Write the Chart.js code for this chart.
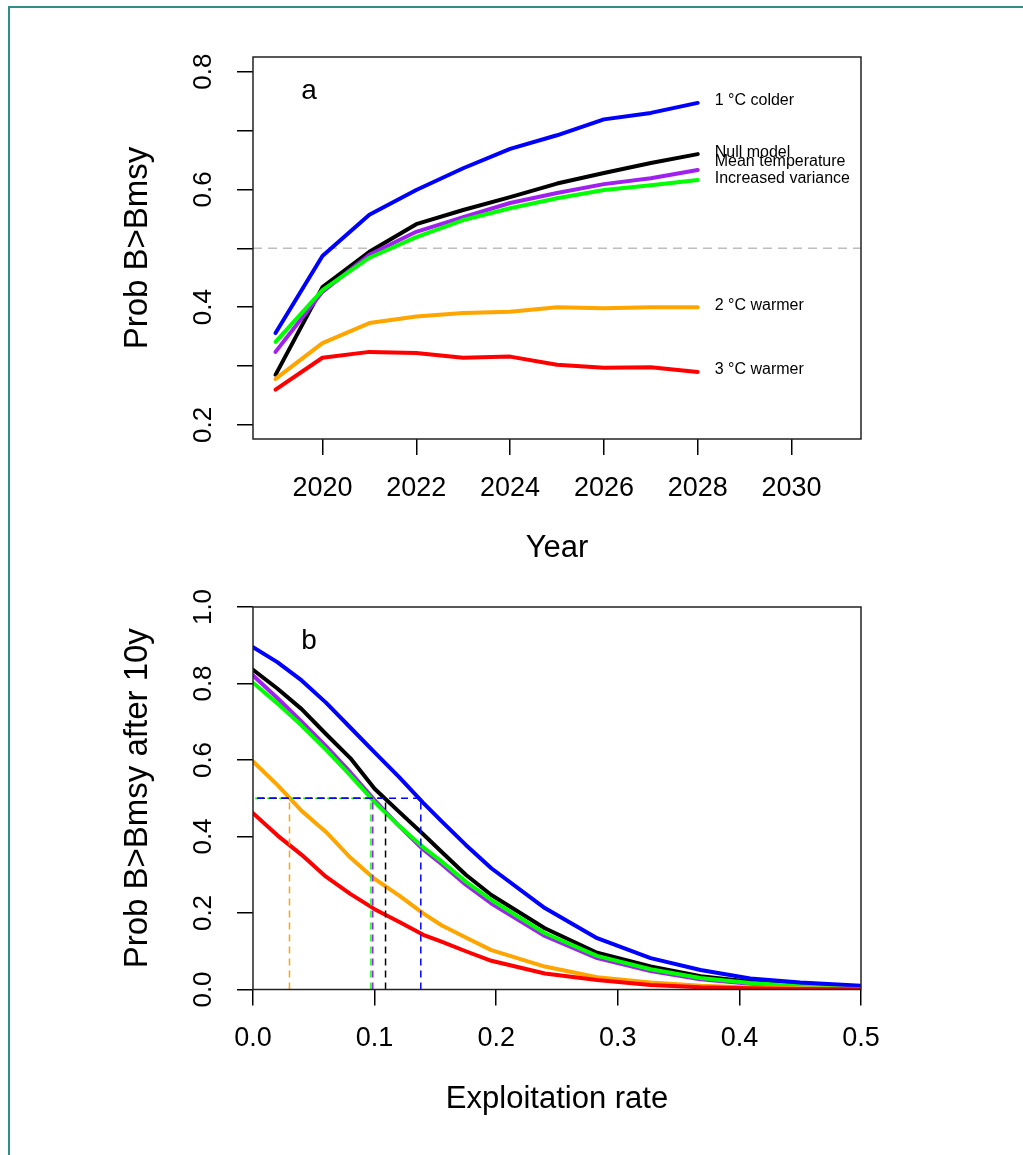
<!DOCTYPE html>
<html>
<head>
<meta charset="utf-8">
<title>Prob B&gt;Bmsy</title>
<script src="https://cdn.jsdelivr.net/npm/chart.js@4.4.1/dist/chart.umd.min.js"></script>
<style>
  html, body { margin: 0; padding: 0; background: #fff; }
  #page { position: relative; width: 1023px; height: 1155px; overflow: hidden; }
  #frame-top { position: absolute; left: 8px; top: 6px; right: 0; border-top: 2px solid #2e9085; }
  #frame-left { position: absolute; left: 8px; top: 6px; bottom: 0; border-left: 2px solid #2e9085; }
  canvas { position: absolute; left: 0; }
  #chart-a { top: 0; }
  #chart-b { top: 575px; }
</style>
</head>
<body>
<div id="page">
  <div id="frame-top"></div>
  <div id="frame-left"></div>
  <canvas id="chart-a" width="1023" height="575"></canvas>
  <canvas id="chart-b" width="1023" height="580"></canvas>
</div>
<script>
// ---- panel a: probability over time ----
var years = [2019, 2020, 2021, 2022, 2023, 2024, 2025, 2026, 2027, 2028];
var nullModel = [0.285, 0.434, 0.494, 0.541, 0.565, 0.587, 0.610, 0.628, 0.645, 0.660];
var meanTemp = [0.324, 0.426, 0.489, 0.528, 0.553, 0.577, 0.594, 0.609, 0.619, 0.633];
var incVariance = [0.341, 0.429, 0.484, 0.519, 0.548, 0.568, 0.585, 0.599, 0.607, 0.616];
var colder1 = [0.356, 0.487, 0.557, 0.599, 0.636, 0.669, 0.692, 0.719, 0.730, 0.747];
var warmer2 = [0.278, 0.339, 0.373, 0.384, 0.390, 0.392, 0.400, 0.398, 0.400, 0.400];
var warmer3 = [0.260, 0.314, 0.324, 0.322, 0.314, 0.316, 0.302, 0.297, 0.298, 0.290];
var yearTicks = [2020, 2022, 2024, 2026, 2028, 2030];
var probTicksA = [0.2, 0.3, 0.4, 0.5, 0.6, 0.7, 0.8];
var probLabelsA = [0.2, 0.4, 0.6, 0.8];
var refProb = 0.5;

// ---- panel b: probability after 10y vs exploitation rate ----
var expRate = [0, 0.02, 0.04, 0.06, 0.08, 0.10, 0.12, 0.14, 0.155, 0.175, 0.196, 0.24, 0.283, 0.327, 0.368, 0.409, 0.45, 0.5];
var nullModelB = [0.836, 0.787, 0.733, 0.668, 0.605, 0.525, 0.465, 0.406, 0.360, 0.300, 0.247, 0.160, 0.096, 0.060, 0.035, 0.020, 0.011, 0.006];
var meanTempB = [0.821, 0.762, 0.700, 0.636, 0.568, 0.495, 0.428, 0.366, 0.328, 0.274, 0.225, 0.140, 0.082, 0.048, 0.027, 0.015, 0.008, 0.004];
var incVarianceB = [0.802, 0.748, 0.690, 0.627, 0.560, 0.490, 0.428, 0.372, 0.335, 0.282, 0.234, 0.147, 0.088, 0.053, 0.030, 0.017, 0.009, 0.005];
var colder1B = [0.895, 0.856, 0.808, 0.750, 0.685, 0.620, 0.556, 0.488, 0.440, 0.378, 0.317, 0.213, 0.134, 0.082, 0.051, 0.029, 0.018, 0.010];
var warmer2B = [0.596, 0.535, 0.467, 0.412, 0.345, 0.289, 0.246, 0.199, 0.168, 0.136, 0.103, 0.060, 0.032, 0.018, 0.010, 0.005, 0.003, 0.001];
var warmer3B = [0.461, 0.403, 0.352, 0.295, 0.250, 0.210, 0.177, 0.143, 0.125, 0.100, 0.075, 0.042, 0.025, 0.012, 0.006, 0.003, 0.001, 0.0005];
// exploitation rate where each curve drops below 0.5 (dashed guides)
var crossNames = ['2 °C warmer', 'Null model', 'Mean temperature', 'Increased variance', '1 °C colder'];
var crossRate = [0.030, 0.109, 0.0985, 0.097, 0.138];
var rateTicks = [0, 0.1, 0.2, 0.3, 0.4, 0.5];
var probTicksB = [0, 0.2, 0.4, 0.6, 0.8, 1.0];

(function () {
  'use strict';

  var FONT = '"Liberation Sans", Arial, Helvetica, sans-serif';
  var colors = {
    'Null model': '#000000',
    'Mean temperature': '#a020f0',
    'Increased variance': '#00ff00',
    '1 °C colder': '#0000ff',
    '2 °C warmer': '#ffa500',
    '3 °C warmer': '#ff0000'
  };

  function toPoints(xs, ys) {
    return xs.map(function (x, i) { return { x: x, y: ys[i] }; });
  }

  function curve(label, xs, ys, order) {
    return {
      label: label,
      data: toPoints(xs, ys),
      borderColor: colors[label],
      borderWidth: 4,
      pointRadius: 0,
      tension: 0,
      borderCapStyle: 'round',
      borderJoinStyle: 'round',
      order: order
    };
  }

  function fixedTicks(values) {
    return function (scale) {
      scale.ticks = values.map(function (v) { return { value: v }; });
    };
  }

  function axisX(min, max, ticks, title, tickPad, titlePad, height, digits) {
    return {
      type: 'linear',
      min: min,
      max: max,
      afterBuildTicks: fixedTicks(ticks),
      afterFit: function (s) { s.height = height; },
      ticks: {
        autoSkip: false,
        maxRotation: 0,
        padding: tickPad,
        color: '#000',
        font: { family: FONT, size: 27 },
        callback: function (v) { return digits ? v.toFixed(digits) : String(v); }
      },
      grid: { drawOnChartArea: false, drawTicks: true, tickLength: 16, color: '#000', lineWidth: 1.5 },
      border: { display: false },
      title: { display: true, text: title, color: '#000', font: { family: FONT, size: 31 }, padding: { top: 0, bottom: titlePad } }
    };
  }

  function axisY(min, max, ticks, title) {
    return {
      type: 'linear',
      min: min,
      max: max,
      afterBuildTicks: fixedTicks(ticks),
      afterFit: function (s) { s.width = 135; },
      ticks: { display: false },
      grid: { drawOnChartArea: false, drawTicks: true, tickLength: 16, color: '#000', lineWidth: 1.5 },
      border: { display: false },
      title: { display: true, text: title, color: '#000', font: { family: FONT, size: 33 }, padding: { top: 0, bottom: 0 } }
    };
  }

  // R style frame, rotated y labels, panel letter, end labels
  var rFrame = {
    id: 'rFrame',
    afterDraw: function (chart, args, opts) {
      var ctx = chart.ctx;
      var a = chart.chartArea;
      var ys = chart.scales.y;
      ctx.save();
      ctx.strokeStyle = '#222';
      ctx.lineWidth = 1.5;
      ctx.strokeRect(a.left, a.top, a.right - a.left, a.bottom - a.top);

      ctx.fillStyle = '#000';
      ctx.textAlign = 'center';
      ctx.textBaseline = 'middle';
      ctx.font = '26px ' + FONT;
      opts.yLabels.forEach(function (v) {
        ctx.save();
        ctx.translate(a.left - 49, ys.getPixelForValue(v));
        ctx.rotate(-Math.PI / 2);
        ctx.fillText(v.toFixed(1), 0, 0);
        ctx.restore();
      });

      ctx.font = '28px ' + FONT;
      ctx.fillText(opts.letter, a.left + 56, a.top + 34);

      if (opts.endLabels) {
        var shift = { 'Mean temperature': -6, 'Increased variance': 1 };
        ctx.font = '16px ' + FONT;
        ctx.textAlign = 'left';
        chart.data.datasets.forEach(function (ds) {
          if (!colors[ds.label]) return;
          var last = ds.data[ds.data.length - 1];
          var px = chart.scales.x.getPixelForValue(last.x) + 17;
          var py = ys.getPixelForValue(last.y) - 2 + (shift[ds.label] || 0);
          ctx.fillText(ds.label, px, py);
        });
      }
      ctx.restore();
    }
  };

  function drawPanelA() {
    var xMin = 2018.52, xMax = 2031.48;
    var datasets = [
      {
        label: 'ref',
        data: [{ x: xMin, y: refProb }, { x: xMax, y: refProb }],
        borderColor: '#bebebe',
        borderWidth: 1.5,
        borderDash: [9, 6],
        pointRadius: 0,
        order: 10
      },
      curve('Null model', years, nullModel, 6),
      curve('Mean temperature', years, meanTemp, 5),
      curve('Increased variance', years, incVariance, 4),
      curve('1 °C colder', years, colder1, 3),
      curve('2 °C warmer', years, warmer2, 2),
      curve('3 °C warmer', years, warmer3, 1)
    ];
    new Chart(document.getElementById('chart-a'), {
      type: 'line',
      data: { datasets: datasets },
      options: {
        responsive: false,
        animation: false,
        devicePixelRatio: 1,
        layout: { padding: { left: 118, right: 162, top: 57, bottom: 0 } },
        plugins: {
          legend: { display: false },
          tooltip: { enabled: false },
          rFrame: { yLabels: probLabelsA, letter: 'a', endLabels: true }
        },
        scales: {
          x: axisX(xMin, xMax, yearTicks, 'Year', 17, 8, 136, 0),
          y: axisY(0.176, 0.825, probTicksA, 'Prob B>Bmsy')
        }
      },
      plugins: [rFrame]
    });
  }

  function drawPanelB() {
    var datasets = [
      curve('Null model', expRate, nullModelB, 16),
      curve('Mean temperature', expRate, meanTempB, 15),
      curve('Increased variance', expRate, incVarianceB, 14),
      curve('1 °C colder', expRate, colder1B, 13),
      curve('2 °C warmer', expRate, warmer2B, 12),
      curve('3 °C warmer', expRate, warmer3B, 11)
    ];
    crossNames.forEach(function (name, i) {
      datasets.push({
        label: 'guide ' + name,
        data: [{ x: crossRate[i], y: 0 }, { x: crossRate[i], y: refProb }, { x: 0, y: refProb }],
        borderColor: colors[name],
        borderWidth: 1.5,
        borderDash: [7, 5],
        pointRadius: 0,
        tension: 0,
        order: 5 - i
      });
    });
    new Chart(document.getElementById('chart-b'), {
      type: 'line',
      data: { datasets: datasets },
      options: {
        responsive: false,
        animation: false,
        devicePixelRatio: 1,
        layout: { padding: { left: 118, right: 162, top: 32, bottom: 0 } },
        plugins: {
          legend: { display: false },
          tooltip: { enabled: false },
          rFrame: { yLabels: probTicksB, letter: 'b', endLabels: false }
        },
        scales: {
          x: axisX(0, 0.5, rateTicks, 'Exploitation rate', 17, 37, 165.5, 1),
          y: axisY(0, 1, probTicksB, 'Prob B>Bmsy after 10y')
        }
      },
      plugins: [rFrame]
    });
  }

  drawPanelA();
  drawPanelB();
})();
</script>
</body>
</html>
